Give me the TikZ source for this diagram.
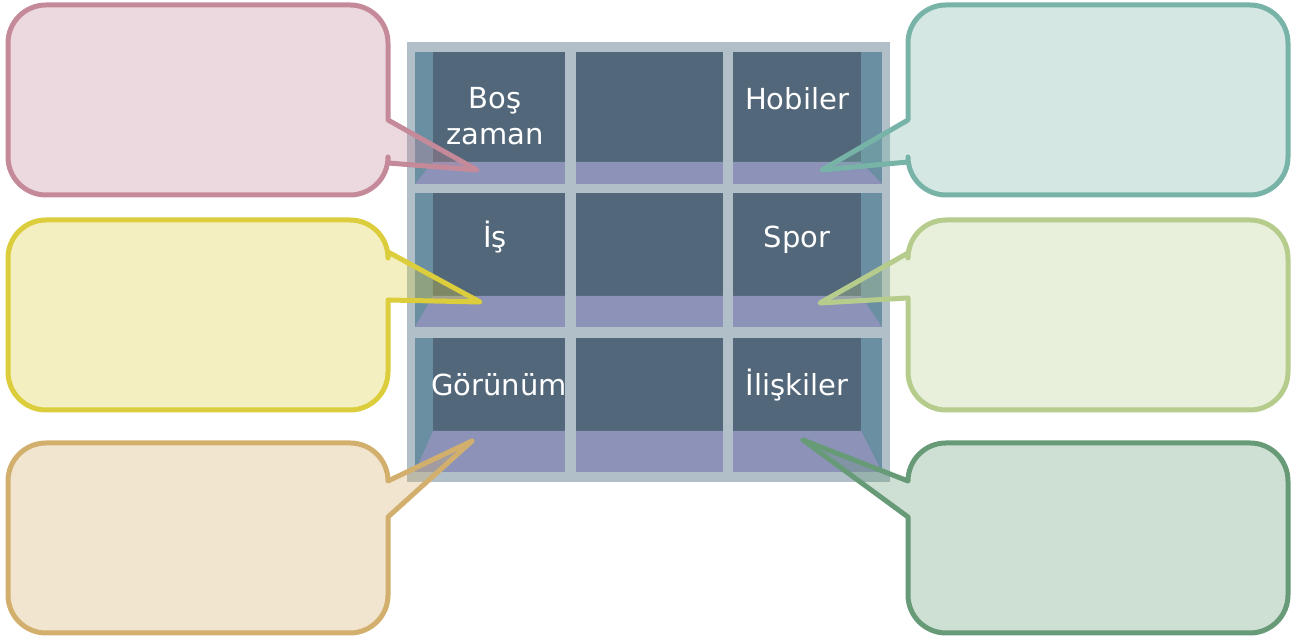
\documentclass[tikz,border=0pt]{standalone}
\usepackage{fontspec}
\setmainfont{DejaVu Sans}
\usetikzlibrary{positioning}

\definecolor{frame}{HTML}{B0BFC8}
\definecolor{side}{HTML}{6A8FA3}
\definecolor{back}{HTML}{526779}
\definecolor{floor}{HTML}{8C92B8}
\definecolor{pink}{HTML}{C58A9A}
\definecolor{yellow}{HTML}{DBCD3B}
\definecolor{tan}{HTML}{D2AF6C}
\definecolor{teal}{HTML}{78B3A7}
\definecolor{lgreen}{HTML}{B6CC8C}
\definecolor{dgreen}{HTML}{679A77}

\tikzstyle{shelflabel} = [text=white, font=\fontsize{14.5}{18}\selectfont, align=center, anchor=base, inner sep=0pt]
\tikzstyle{bubble} = [line width=2.5pt, line join=round, fill opacity=0.32]
\newcommand{\rr}{19pt}

% callout left of the shelf: colour, top, bottom, pointer base (upper, lower), tip
\newcommand{\leftbubble}[6]{
  \draw[bubble, draw=#1, fill=#1] (8,#3+38) -- (8,#2-38) arc[start angle=180, end angle=90, radius=\rr]
    -- (350,#2) arc[start angle=90, end angle=0, radius=\rr] -- (388,#4) -- (#6) -- (388,#5)
    -- (388,#3+38) arc[start angle=0, end angle=-90, radius=\rr] -- (46,#3)
    arc[start angle=270, end angle=180, radius=\rr] -- cycle;
}
% callout right of the shelf
\newcommand{\rightbubble}[6]{
  \draw[bubble, draw=#1, fill=#1] (1288,#3+38) -- (1288,#2-38) arc[start angle=0, end angle=90, radius=\rr]
    -- (946,#2) arc[start angle=90, end angle=180, radius=\rr] -- (908,#4) -- (#6) -- (908,#5)
    -- (908,#3+38) arc[start angle=180, end angle=270, radius=\rr] -- (1250,#3)
    arc[start angle=270, end angle=360, radius=\rr] -- cycle;
}

\begin{document}
\begin{tikzpicture}[x=0.5pt, y=0.5pt]
    \useasboundingbox (0,0) rectangle (1298,641);

    % shelf
    \fill[frame] (407,159) rectangle (890,599);
    \foreach \t/\s/\b in {589/479/457, 448/345/314, 303/210/169} {
        \fill[side] (415,\b) rectangle (882,\t);
        \fill[back] (433,\s) rectangle (861,\t);
        \fill[floor] (433,\s) -- (861,\s) -- (882,\b) -- (415,\b) -- cycle;
    }
    \fill[frame] (565,159) rectangle (576,599);
    \fill[frame] (723,159) rectangle (733,599);

    \node (boszaman) [shelflabel] at (495,496) {Boş\\zaman};
    \node (hobiler) [shelflabel] at (797,531) {Hobiler};
    \node (is) [shelflabel] at (495,393) {İş};
    \node (spor) [shelflabel] at (797,393) {Spor};
    \node (gorunum) [shelflabel] at (499,245) {Görünüm};
    \node (iliskiler) [shelflabel] at (797,245) {İlişkiler};

    \coordinate (tipA) at (477,471);
    \coordinate (tipB) at (480,339);
    \coordinate (tipC) at (472,200);
    \coordinate (tipD) at (822,471);
    \coordinate (tipE) at (820,338);
    \coordinate (tipF) at (803,201);

    \leftbubble{pink}{636}{446}{521}{478}{tipA}
    \leftbubble{yellow}{421}{231}{389}{341}{tipB}
    \leftbubble{tan}{198}{8}{160}{124}{tipC}
    \rightbubble{teal}{636}{446}{521}{479}{tipD}
    \rightbubble{lgreen}{421}{231}{388}{343}{tipE}
    \rightbubble{dgreen}{198}{8}{160}{124}{tipF}

\end{tikzpicture}
\end{document}
